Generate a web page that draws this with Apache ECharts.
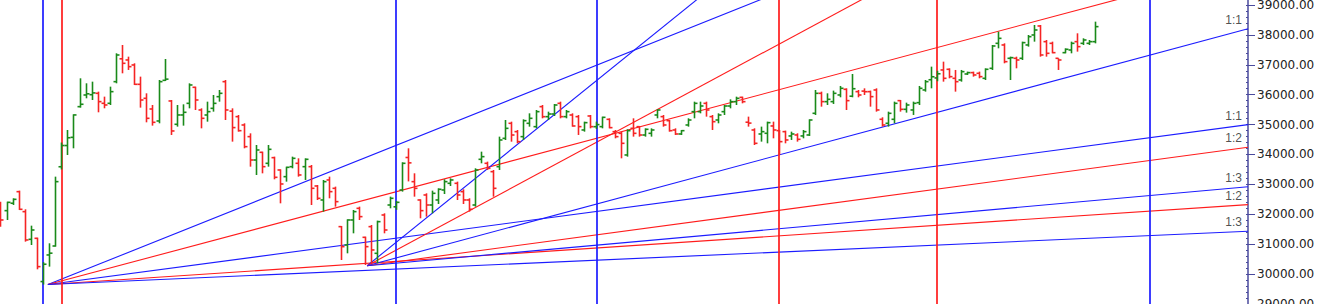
<!DOCTYPE html>
<html>
<head>
<meta charset="utf-8">
<script src="https://cdn.jsdelivr.net/npm/echarts@6/dist/echarts.min.js"></script>
<style>
html,body{margin:0;padding:0;background:#fff;}
#chart{width:1318px;height:304px;}
</style>
</head>
<body>
<div id="chart"></div>
<script>
// ---- OHLC data (bar index = position) ----
const opens = [32370,32122,32370,32757,32089,31163,31197,29750,30640,30940,33590,34300,34574,35600,35990,36000,36046,35712,35712,36436,37200,37161,36994,36347,35879,35522,35121,36480,35790,35010,35322,35711,36247,35489,35321,35544,35934,36436,35450,35266,34987,34597,33816,34073,33705,33894,33482,33259,33593,33705,33593,33593,32947,32479,33148,32869,31587,30974,31810,32200,31230,31587,30695,31977,32311,32250,32813,33900,33092,32479,32646,32311,32479,32813,33036,33036,32758,32479,32311,33839,33705,33426,33593,34540,35043,34764,34597,35043,34931,35600,35265,35354,35711,35266,35321,35266,34820,35288,34930,34932,35176,34764,34708,33984,34875,34931,34652,34708,35321,35266,35131,34820,34686,34987,35433,35433,35711,35266,35154,35433,35622,35767,35911,35080,34820,34686,34709,34954,34798,34764,34620,34653,34620,34653,35378,36046,35768,35768,35991,36180,35950,36102,36120,36102,36158,35177,35043,35177,35801,35511,35489,35734,36158,36500,36560,36827,36849,36548,36492,36693,36738,36715,36548,36882,37718,37663,37217,37217,37217,37663,37997,38298,37774,37718,37217,37406,37495,37774,37718,37718,37774];
const highs = [32423,32423,32535,32791,32167,31620,31219,30400,31030,33259,34400,34820,35344,36548,36381,36436,36102,35935,36269,37384,37662,37272,37050,36604,36046,35656,36492,37194,35823,35656,35678,36380,36269,35544,35767,35990,36157,36492,35544,35321,35043,34708,34318,34095,34318,33928,33504,33593,33928,33872,33872,33649,32980,33148,33259,32925,31609,31832,32144,32256,31253,31643,31788,32033,32590,32450,33740,34207,33371,32501,32702,32791,32869,33170,33203,33092,32836,32535,33538,34095,33761,33482,34597,35154,35098,34819,35176,35377,35488,35655,35433,35689,35767,35489,35377,35321,35098,35321,35100,35266,35210,34820,34764,34842,35210,34953,34875,34875,35511,35321,35154,34875,34820,35210,35767,35767,35767,35321,35377,35656,35845,35934,35934,35266,34876,34932,35099,35099,34820,34798,34764,34709,34820,35177,36158,36102,36046,36136,36292,36213,36693,36158,36213,36136,36213,35244,35433,35768,35823,35734,35768,36292,36492,36938,36800,37105,36882,36827,36827,36771,36771,36771,36882,37663,38108,37718,37272,37272,37774,37997,38331,38331,37830,37774,37217,37551,37774,38053,37886,37830,38443];
const lows = [31587,31810,32312,32145,31085,30974,30160,29650,30250,30918,33500,33984,34207,35567,35879,35823,35411,35545,35656,36381,36715,36827,36325,35567,35076,34965,35043,36459,34653,34932,34965,35544,35489,34875,35098,35433,35767,35154,34430,34764,34207,33593,33315,33370,33593,33170,32367,33092,33538,33259,33148,32311,32479,32089,32535,32256,30472,30695,31364,31810,30305,30361,30361,31364,32200,32150,32758,33100,32590,31866,31921,32033,32345,32679,32947,32479,32345,32089,32256,33705,33482,32590,33482,34485,34429,34374,34485,34931,34875,35210,35154,35288,35210,35210,34931,34653,34764,34875,34850,34875,34875,34541,33872,33928,34597,34597,34597,34597,35210,34931,34764,34653,34653,34931,35210,35377,35266,34820,35043,35321,35544,35656,35711,34932,34318,34430,34374,34541,33984,34374,34486,34430,34541,34620,35322,35600,35656,35690,35913,35489,35913,35913,35990,35600,35433,34932,34932,35043,35433,35400,35322,35656,36102,36213,36450,36436,36548,36102,36436,36660,36604,36548,36492,36827,37551,37050,36492,36882,37161,37607,37774,37272,37272,37384,36827,37384,37384,37440,37663,37663,37718];
const closes = [31810,32400,32500,32167,31141,31475,30250,30330,30700,33092,34300,34560,35323,35680,36030,36060,35768,35656,36102,37328,37050,36938,36347,35823,35210,35076,36436,36520,34787,35322,35411,36325,35823,35210,35433,35711,36046,35489,34900,34797,34262,33816,34151,33593,34173,33237,33014,33571,33872,33315,33839,32869,32534,33092,32758,32423,30918,31810,32089,31922,30918,30807,31754,31475,32535,32400,33705,33720,32869,32122,32311,32702,32836,33092,33148,32646,32479,32167,33482,33928,33538,32869,34485,34875,34652,34429,35131,35210,35433,35265,35354,35655,35266,35433,34954,34932,35065,34932,35000,35243,34898,34597,34374,34797,34708,34652,34842,34820,35489,34987,34797,34686,34797,35154,35711,35622,35489,35098,35321,35622,35767,35878,35767,35050,34374,34764,35065,34820,34430,34486,34686,34508,34764,35154,36046,35768,35846,36046,36214,35801,36200,35990,36100,35935,35489,34987,35377,35712,35511,35656,35712,36213,36436,36600,36700,36548,36604,36436,36771,36738,36660,36604,36849,37629,37885,37105,37239,37161,37741,37941,38164,37328,37384,37406,37161,37518,37718,37607,37830,37774,38276];

// ---- vertical cycle lines (bar index) ----
const vLineIdx = [7, 10, 65, 98, 128, 154, 189];
const vLineClr = ['blue','red','blue','blue','red','red','blue'];

// ---- Gann fans: origin (bar index, price) and 1:1 slope (price per bar) ----
const fanOriginIdx = [7.8, 60.3];
const fanOriginPrice = [29650, 30280];
const fanUnitSlope = [27.1, 54.7];
const fanRatios = [3, 2, 1, 1/2, 1/3];
const fanRatioNames = ['3:1','2:1','1:1','1:2','1:3'];
const fanRatioClr = ['blue','red','blue','red','blue'];

// ---- axis ----
const yTickLabels = [29000,30000,31000,32000,33000,34000,35000,36000,37000,38000,39000];
const yMin = 29000, yMax = 39167;
const xMin = -0.082, xMax = 205.18;

const COL = {blue:'#1c1cff', red:'#ff1c1c', up:'#1a8a1a', down:'#f52424'};

const ohlc = opens.map((o,i)=>[i,o,highs[i],lows[i],closes[i]]);

const series = [];
series.push({
  type:'custom', name:'ohlc', data: ohlc, z:5, clip:true,
  encode:{x:0, y:[1,2,3,4]},
  renderItem:function(params, api){
    const i = api.value(0);
    const o=api.value(1), h=api.value(2), l=api.value(3), c=api.value(4);
    const pH = api.coord([i,h]), pL = api.coord([i,l]);
    const pO = api.coord([i,o]), pC = api.coord([i,c]);
    const x = Math.round(pH[0]) + 0.5;
    const color = c >= o ? COL.up : COL.down;
    const st = {stroke: color, lineWidth: 1.6};
    return {type:'group', children:[
      {type:'line', shape:{x1:x, y1:pH[1], x2:x, y2:pL[1]}, style:st},
      {type:'line', shape:{x1:x-3, y1:pO[1], x2:x, y2:pO[1]}, style:st},
      {type:'line', shape:{x1:x, y1:pC[1], x2:x+3, y2:pC[1]}, style:st}
    ]};
  }
});

const fanLabels = [];
fanOriginIdx.forEach((ox, f)=>{
  fanRatios.forEach((r, k)=>{
    const op = fanOriginPrice[f];
    const endP = op + fanUnitSlope[f]*r*(xMax-ox);
    series.push({
      type:'line', silent:true, symbol:'none', z:3, animation:false, clip:true,
      data:[[ox, op],[xMax, endP]],
      lineStyle:{color: COL[fanRatioClr[k]], width:1.1}
    });
    if (endP < yMax) fanLabels.push({value:[xMax, endP], name: fanRatioNames[k]});
  });
});

series.push({
  type:'scatter', symbolSize:0.1, silent:true, z:6, data: fanLabels,
  itemStyle:{color:'#222'},
  label:{show:true, position:'left', distance:6, offset:[0,-9], formatter:p=>p.name,
         color:'#222', textBorderWidth:0, fontSize:12, fontFamily:'Liberation Sans, Arial, sans-serif'}
});

series.push({
  type:'line', data:[], silent:true, z:4,
  markLine:{
    silent:true, symbol:['none','none'], label:{show:false}, animation:false,
    data: vLineIdx.map((v,i)=>({xAxis:v, lineStyle:{color:COL[vLineClr[i]], width:1.7, type:'solid'}}))
  }
});

const minorTicks = [];
for (let v = 29000; v <= 39000; v += 200) minorTicks.push(v);

const chart = echarts.init(document.getElementById('chart'), null, {renderer:'svg'});
chart.setOption({
  animation:false,
  backgroundColor:'#ffffff',
  grid:{left:0, right:70, top:0, bottom:0, containLabel:false, outerBoundsMode:'none'},
  xAxis:{type:'value', min:xMin, max:xMax, show:false, axisLine:{onZero:false}},
  yAxis:[{
    type:'value', position:'right', min:yMin, max:yMax, interval:1000,
    splitLine:{show:false},
    axisLine:{show:true, onZero:false, lineStyle:{color:'#4a4a9c', width:1.5}},
    axisTick:{show:true, length:7, lineStyle:{color:'#4a4a9c'}, customValues: yTickLabels},
    axisLabel:{show:true, margin:9, color:'#222', fontSize:12, fontFamily:'DejaVu Sans, sans-serif',
               customValues: yTickLabels, formatter:v=>v.toFixed(2)}
  },{
    type:'value', position:'right', min:yMin, max:yMax, interval:200,
    splitLine:{show:false}, axisLine:{show:false, onZero:false}, axisLabel:{show:false},
    axisTick:{show:true, inside:true, length:2, lineStyle:{color:'#4a4a9c'}, customValues: minorTicks}
  }],
  series: series
});
</script>
</body>
</html>
